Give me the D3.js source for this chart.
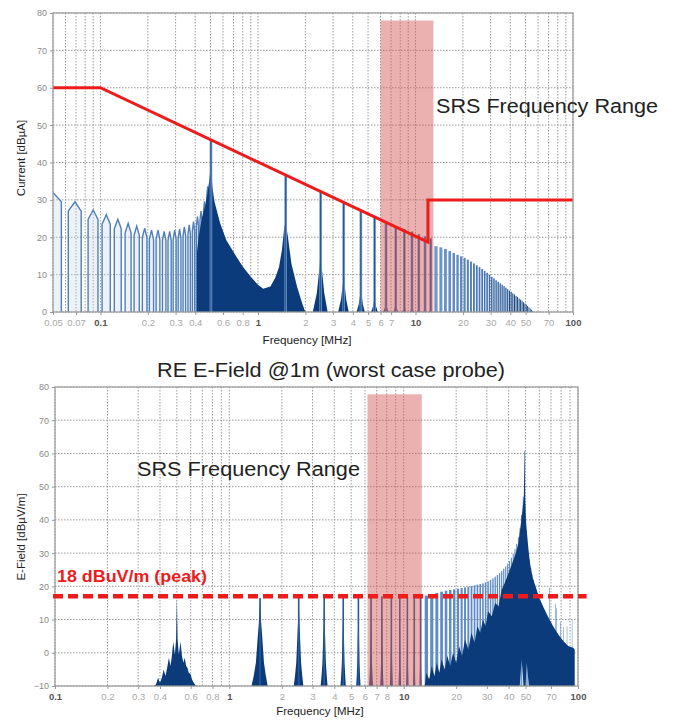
<!DOCTYPE html>
<html>
<head>
<meta charset="utf-8">
<script src="https://cdn.jsdelivr.net/npm/d3@7"></script>
<style>
body { margin: 0; background: #fff; }
text { font-family: "Liberation Sans", Arial, sans-serif; }
</style>
</head>
<body>
<svg id="chart" width="677" height="720"></svg>
<script>

// ---------- top chart: conducted current ----------
let topTickF = [0.05, 0.07, 0.1, 0.2, 0.3, 0.4, 0.6, 0.8, 1, 2, 3, 4, 5, 6, 7, 10, 20, 30, 40, 50, 70, 100]
let topYTicks = [0, 10, 20, 30, 40, 50, 60, 70, 80]

let topLimitF = [0.05, 0.1, 12, 12, 100]
let topLimitDb = [60, 60, 18.7, 30, 30]

let topBandF = [6, 13]
let topBandDb = 78

// low frequency comb (outlined arches)
let archF = [0.05, 0.069, 0.09, 0.109, 0.129, 0.15, 0.17, 0.191, 0.211, 0.232, 0.254, 0.275, 0.296, 0.318, 0.341, 0.366, 0.39, 0.413, 0.435, 0.458, 0.48]
let archDb = [32, 29.5, 27.3, 26, 24.8, 23.7, 23, 22.4, 21.9, 21.9, 21.6, 21.6, 21.9, 22.2, 22.8, 23.3, 24.2, 25.5, 27, 29.6, 33.6]

// filled resonance area 0.4 .. 2 MHz
let bowlF = [0.41, 0.41, 0.42, 0.44, 0.46, 0.475, 0.49, 0.498, 0.508, 0.517, 0.53, 0.575, 0.63, 0.73, 0.8, 0.9, 1.0, 1.08, 1.2, 1.29, 1.36, 1.42, 1.47, 1.5, 1.55, 1.63, 1.77, 1.91, 2.0]
let bowlDb = [0, 16, 20, 25, 28, 31, 35, 38, 36, 32.6, 29.5, 23.8, 19.2, 14.8, 12.2, 9.4, 7.3, 6.2, 6.8, 9.2, 12, 16.6, 22.8, 24, 20.1, 13, 6.8, 2.3, 0]

// harmonic spikes
let topSpikeF = [0.503, 1.5, 2.5, 3.5, 4.5, 5.5, 6.5, 7.5, 8.5, 9.5, 10.5, 11.5, 12.5]
let topSpikeDb = [46.2, 36.6, 32.2, 29.5, 27, 25.3, 24, 23, 22.2, 21.5, 20.8, 20.2, 19.7]
let topSpikeBase = [0, 0, 17, 11, 7, 4.5, 3, 3, 2.5, 2.5, 2, 2, 2]

// dense harmonics above 13 MHz
let topHiF = [13.5, 14.5, 15.5, 16.5, 17.5, 18.5, 19.5, 20.5, 21.5, 22.5, 23.5, 24.5, 25.5, 26.5, 27.5, 28.5, 29.5, 30.5, 31.5, 32.5, 33.5, 34.5, 35.5, 36.5, 37.5, 38.5, 39.5, 40.5, 41.5, 42.5, 43.5, 44.5, 45.5, 46.5, 47.5, 48.5, 49.5, 50.5, 51.5, 52.5, 53.5, 54.5, 55.5]
let topHiDb = [17.6, 17.3, 16.9, 16.3, 15.8, 15.3, 14.9, 14.5, 14.0, 13.5, 13.0, 12.5, 12.0, 11.5, 11.0, 10.5, 9.9, 9.4, 9.0, 8.5, 8.1, 7.7, 7.3, 6.9, 6.5, 6.1, 5.7, 5.4, 5.0, 4.7, 4.3, 4.0, 3.6, 3.3, 3.0, 2.6, 2.3, 2.0, 1.6, 1.3, 0.9, 0.6, 0.3]

// ---------- bottom chart: radiated E-field ----------
let botTickF = [0.1, 0.2, 0.3, 0.4, 0.6, 0.8, 1, 2, 3, 4, 5, 6, 7, 8, 10, 20, 30, 40, 50, 70, 100]
let botYTicks = [-10, 0, 10, 20, 30, 40, 50, 60, 70, 80]

let botBandF = [6.2, 12.7]
let botBandDb = 77.8

let botLimitF = [0.1, 112]
let botLimitDb = 17

// cluster round 0.5 MHz
let c5F = [0.37, 0.38, 0.39, 0.4, 0.41, 0.42, 0.43, 0.44, 0.45, 0.46, 0.468, 0.477, 0.487, 0.495, 0.5, 0.505, 0.513, 0.525, 0.535, 0.545, 0.555, 0.565, 0.575, 0.585, 0.6, 0.61, 0.625, 0.645]
let c5Db = [-10, -9.5, -7.5, -9, -7.5, -5, -7, -4.5, -1.5, -4, -1, 3.3, -0.5, 4, 16.5, 4, -0.5, 3.3, -1, -3, -1.5, -4, -4.5, -6, -6.5, -8, -9, -10]

let botSpikeF = [1.5, 2.5, 3.5, 4.5, 5.5, 6.5, 7.5, 8.5, 9.5, 10.5, 11.5, 12.5]
let botSpikeDb = [16.5, 16.8, 16.8, 17, 17, 17, 17, 17, 17, 17, 17, 17]

let botHiF = [13.5, 14.5, 15.5, 16.5, 17.5, 18.5, 19.5, 20.5, 21.5, 22.5, 23.5, 24.5, 25.5, 26.5, 27.5, 28.5, 29.5, 30.5, 31.5, 32.5, 33.5, 34.5, 35.5, 36.5, 37.5, 38.5, 39.5, 40.5, 41.5, 42.5, 43.5, 44.5, 45.5, 46.5, 47.5, 48.5, 49.5, 50.5, 51.5, 52.5, 53.5, 54.5, 55.5, 56.5, 57.5, 58.5, 59.5, 60.5, 61.5, 62.5, 63.5, 64.5, 65.5, 66.5, 67.5, 68.5, 69.5, 70.5, 71.5, 72.5, 73.5, 74.5, 75.5, 76.5, 77.5, 78.5, 79.5, 80.5, 81.5, 82.5, 83.5, 84.5, 85.5, 86.5, 87.5, 88.5, 89.5, 90.5, 91.5, 92.5, 93.5, 94.5, 95.5]
let botHiDb = [17.2, 17.6, 18.0, 18.4, 18.7, 18.9, 19.1, 19.3, 19.5, 19.7, 19.9, 20.1, 20.3, 20.5, 20.7, 20.9, 21.2, 21.5, 21.9, 22.4, 22.9, 23.4, 24.0, 24.6, 25.3, 26.0, 26.8, 27.6, 28.6, 29.8, 31.2, 32.8, 34.8, 37.5, 41.5, 47.0, 60.8, 37.0, 31.0, 28.0, 25.5, 23.5, 22.0, 20.5, 19.2, 18.0, 17.0, 16.0, 15.0, 14.2, 13.5, 12.8, 12.0, 11.3, 10.6, 19.6, 9.5, 8.8, 8.2, 7.6, 7.0, 14.8, 13.4, 6.0, 5.5, 5.0, 9.3, 4.2, 3.8, 7.8, 3.2, 2.9, 2.6, 8.0, 2.2, 2.0, 1.8, 1.6, 1.5, 10.0, 1.3, 1.2, 1.0]

// dark body of the spectrum above 13 MHz (top edge left->right, then bottom edge back)
let botDarkF = [13.2, 13.5, 14, 14.5, 15, 15.5, 16, 16.5, 17.2, 17.8, 18.5, 19.2, 20, 20.8, 21.6, 22.5, 23.5, 24.5, 25.5, 26.5, 27.5, 28.5, 29.5, 30.5, 32, 33.5, 35, 36.5, 38, 40, 42, 44, 45.5, 46.8, 48, 48.9, 49.3, 49.7, 50.3, 50.8, 52, 53.1, 55, 58, 60, 63, 67, 72, 77, 82.5, 88, 94, 95.6, 95.6, 52.3, 50.8, 50, 48.8, 47.5, 46.3]
let botDarkDb = [-10, -6, -8, -4, -7, -3, -6, -2, -5, -1, -4, 0, -3, 2, -1, 4, 1, 6, 3, 8, 6, 10, 8, 12.5, 11, 15, 14, 19, 21, 24, 27, 30, 33, 38, 43, 47, 60.8, 47, 40, 36.9, 31, 26.9, 22.5, 18.8, 16.5, 14, 11, 8, 5.5, 3.5, 2, 1.5, 1, -10, -10, -3, -10, -10, -2, -10]

// ---------- drawing ----------
let navy = '#0b3b7a'
let red = '#ee1b1b'

const svg = d3.select('#chart')

let topX = d3.scaleLog().domain([0.05, 100]).range([53, 573])
let topY = d3.scaleLinear().domain([0, 80]).range([312, 13])
let botX = d3.scaleLog().domain([0.1, 100]).range([55, 578])
let botY = d3.scaleLinear().domain([-10, 80]).range([686, 387])

function pathOf(x, y, pts, close){
	return d3.line().x(d => x(d[0])).y(d => y(d[1]))(pts) + (close ? 'Z' : '')
}

function drawGrid(g, x, y, yTicks, id){
	let [x0, x1] = x.range()
	let [y0, y1] = y.range()
	g.append('clipPath').attr('id', id)
		.append('rect').attr('x', x0).attr('y', y1).attr('width', x1 - x0).attr('height', y0 - y1)
	g.append('g').selectAll('line')
		.data(x.ticks())
		.join('line')
		.attr('x1', d => x(d)).attr('x2', d => x(d))
		.attr('y1', y1).attr('y2', y0)
		.attr('stroke', '#9c9c9c').attr('stroke-dasharray', '1.5,1.5')
	g.append('g').selectAll('line')
		.data(yTicks)
		.join('line')
		.attr('x1', x0).attr('x2', x1)
		.attr('y1', d => y(d)).attr('y2', d => y(d))
		.attr('stroke', '#9c9c9c').attr('stroke-dasharray', '1.5,1.5')
}

function drawAxes(g, x, y, tickF, yTicks){
	let [x0, x1] = x.range()
	let [y0, y1] = y.range()
	let majors = [0.1, 1, 10, 100]
	let xa = g.append('g')
		.attr('transform', `translate(0,${y0})`)
		.call(d3.axisBottom(x).tickValues(tickF).tickFormat(d3.format('~g')).tickSize(3).tickPadding(4))
	xa.select('.domain').remove()
	xa.selectAll('line').attr('stroke', '#999')
	xa.selectAll('text')
		.attr('font-size', 9.5)
		.attr('fill', d => majors.includes(d) ? '#555' : '#a8a8a8')
		.attr('font-weight', d => majors.includes(d) ? 'bold' : 'normal')
	let ya = g.append('g')
		.attr('transform', `translate(${x0},0)`)
		.call(d3.axisLeft(y).tickValues(yTicks).tickSize(3).tickPadding(3))
	ya.select('.domain').remove()
	ya.selectAll('line').attr('stroke', '#999')
	ya.selectAll('text').attr('font-size', 9).attr('fill', '#8a8a8a')
	g.append('rect')
		.attr('x', x0).attr('y', y1).attr('width', x1 - x0).attr('height', y0 - y1)
		.attr('fill', 'none').attr('stroke', '#9a9a9a').attr('stroke-width', 1.2)
}

// ===== top chart =====
const gTop = svg.append('g')
drawGrid(gTop, topX, topY, topYTicks, 'clipTop')
const topData = gTop.append('g').attr('clip-path', 'url(#clipTop)')

let archHW = 0.0065
topData.append('g').selectAll('path')
	.data(archF)
	.join('path')
	.attr('d', (f, i) => pathOf(topX, topY, [[f - archHW, 0], [f - archHW, archDb[i] - 2.5], [f, archDb[i]], [f + archHW, archDb[i] - 2.5], [f + archHW, 0]]))
	.attr('fill', '#c4d5ec').attr('fill-opacity', 0.3)
	.attr('stroke', '#4f7fba').attr('stroke-width', 1.4)

topData.append('path')
	.attr('d', pathOf(topX, topY, d3.zip(bowlF, bowlDb), true))
	.attr('fill', navy)

let spikeBW = 0.27
topData.append('g').selectAll('path')
	.data(topSpikeF)
	.join('path')
	.attr('d', (f, i) => {
		let b = topSpikeBase[i]
		return pathOf(topX, topY, [[f - spikeBW, 0], [f - spikeBW * 0.5, b * 0.3], [f - spikeBW * 0.15, b * 0.7], [f, b], [f + spikeBW * 0.15, b * 0.7], [f + spikeBW * 0.5, b * 0.3], [f + spikeBW, 0]], true)
	})
	.attr('fill', navy)

topData.append('g').selectAll('line')
	.data(topSpikeF)
	.join('line')
	.attr('x1', d => topX(d)).attr('x2', d => topX(d))
	.attr('y1', topY(0)).attr('y2', (d, i) => topY(topSpikeDb[i]))
	.attr('stroke', '#6d96ca').attr('stroke-width', 2.6)
topData.append('g').selectAll('line')
	.data(topSpikeF)
	.join('line')
	.attr('x1', d => topX(d)).attr('x2', d => topX(d))
	.attr('y1', topY(0)).attr('y2', (d, i) => topY(topSpikeDb[i]))
	.attr('stroke', '#1f4f8e').attr('stroke-width', 1)

let hiColor = d3.scaleLinear().domain([13, 28, 45]).range(['#7098cb', '#4271ad', navy]).clamp(true)
let hiHW = 0.32
topData.append('g').selectAll('rect')
	.data(topHiF)
	.join('rect')
	.attr('x', d => topX(d - hiHW))
	.attr('width', d => topX(d + hiHW) - topX(d - hiHW))
	.attr('y', (d, i) => topY(topHiDb[i]))
	.attr('height', (d, i) => topY(0) - topY(topHiDb[i]))
	.attr('fill', d => hiColor(d))

gTop.append('rect')
	.attr('x', topX(topBandF[0]))
	.attr('width', topX(topBandF[1]) - topX(topBandF[0]))
	.attr('y', topY(topBandDb))
	.attr('height', topY(0) - topY(topBandDb))
	.attr('fill', 'rgb(210,80,80)').attr('fill-opacity', 0.45)

gTop.append('path')
	.attr('d', pathOf(topX, topY, d3.zip(topLimitF, topLimitDb)))
	.attr('fill', 'none').attr('stroke', red).attr('stroke-width', 3)

drawAxes(gTop, topX, topY, topTickF, topYTicks)

gTop.append('text')
	.attr('x', 436).attr('y', 113)
	.attr('font-size', 20).attr('textLength', 222).attr('lengthAdjust', 'spacingAndGlyphs')
	.attr('fill', '#222')
	.text('SRS Frequency Range')

gTop.append('text')
	.attr('transform', 'translate(25,158) rotate(-90)')
	.attr('text-anchor', 'middle').attr('font-size', 11.5).attr('fill', '#222')
	.text('Current [dBµA]')

gTop.append('text')
	.attr('x', 307).attr('y', 344)
	.attr('text-anchor', 'middle').attr('font-size', 11.7).attr('fill', '#222')
	.text('Frequency [MHz]')

// ===== bottom chart =====
const gBot = svg.append('g')

gBot.append('text')
	.attr('x', 331).attr('y', 377)
	.attr('text-anchor', 'middle')
	.attr('font-size', 20).attr('textLength', 348).attr('lengthAdjust', 'spacingAndGlyphs')
	.attr('fill', '#222')
	.text('RE E-Field @1m (worst case probe)')

drawGrid(gBot, botX, botY, botYTicks, 'clipBot')
const botData = gBot.append('g').attr('clip-path', 'url(#clipBot)')

botData.append('path')
	.attr('d', pathOf(botX, botY, d3.zip(c5F, c5Db), true))
	.attr('fill', navy)

let triHW = 0.16
botData.append('g').selectAll('path')
	.data(botSpikeF)
	.join('path')
	.attr('d', (f, i) => pathOf(botX, botY, [[f - triHW, -10], [f - triHW * 0.75, -7], [f - triHW * 0.5, -3], [f - triHW * 0.3, 4], [f - triHW * 0.15, 9], [f, botSpikeDb[i]], [f + triHW * 0.15, 9], [f + triHW * 0.3, 4], [f + triHW * 0.5, -3], [f + triHW * 0.75, -7], [f + triHW, -10]], true))
	.attr('fill', navy)
botData.append('g').selectAll('line')
	.data(botSpikeF)
	.join('line')
	.attr('x1', d => botX(d)).attr('x2', d => botX(d))
	.attr('y1', botY(-10)).attr('y2', (d, i) => botY(botSpikeDb[i]))
	.attr('stroke', '#2a5a98').attr('stroke-width', 1.6)

botData.append('g').selectAll('rect')
	.data(botHiF)
	.join('rect')
	.attr('x', d => botX(d - 0.3))
	.attr('width', d => botX(d + 0.3) - botX(d - 0.3))
	.attr('y', (d, i) => botY(botHiDb[i]))
	.attr('height', (d, i) => botY(-10) - botY(botHiDb[i]))
	.attr('fill', '#5f8cc6')

botData.append('path')
	.attr('d', pathOf(botX, botY, d3.zip(botDarkF, botDarkDb), true))
	.attr('fill', navy)

gBot.append('rect')
	.attr('x', botX(botBandF[0]))
	.attr('width', botX(botBandF[1]) - botX(botBandF[0]))
	.attr('y', botY(botBandDb))
	.attr('height', botY(-10) - botY(botBandDb))
	.attr('fill', 'rgb(210,80,80)').attr('fill-opacity', 0.45)

drawAxes(gBot, botX, botY, botTickF, botYTicks)

gBot.append('line')
	.attr('x1', botX(botLimitF[0]) - 2).attr('x2', botX(botLimitF[1]))
	.attr('y1', botY(botLimitDb)).attr('y2', botY(botLimitDb))
	.attr('stroke', red).attr('stroke-width', 4.5).attr('stroke-dasharray', '10,5')

gBot.append('text')
	.attr('x', 57).attr('y', 582)
	.attr('font-size', 17).attr('font-weight', 'bold')
	.attr('textLength', 150).attr('lengthAdjust', 'spacingAndGlyphs')
	.attr('fill', red)
	.text('18 dBuV/m (peak)')

gBot.append('text')
	.attr('x', 137).attr('y', 476)
	.attr('font-size', 20).attr('textLength', 223).attr('lengthAdjust', 'spacingAndGlyphs')
	.attr('fill', '#222')
	.text('SRS Frequency Range')

gBot.append('text')
	.attr('transform', 'translate(25,537) rotate(-90)')
	.attr('text-anchor', 'middle').attr('font-size', 11.5).attr('fill', '#222')
	.text('E-Field [dBµV/m]')

gBot.append('text')
	.attr('x', 320).attr('y', 715)
	.attr('text-anchor', 'middle').attr('font-size', 11.5).attr('fill', '#222')
	.text('Frequency [MHz]')

</script>
</body>
</html>
